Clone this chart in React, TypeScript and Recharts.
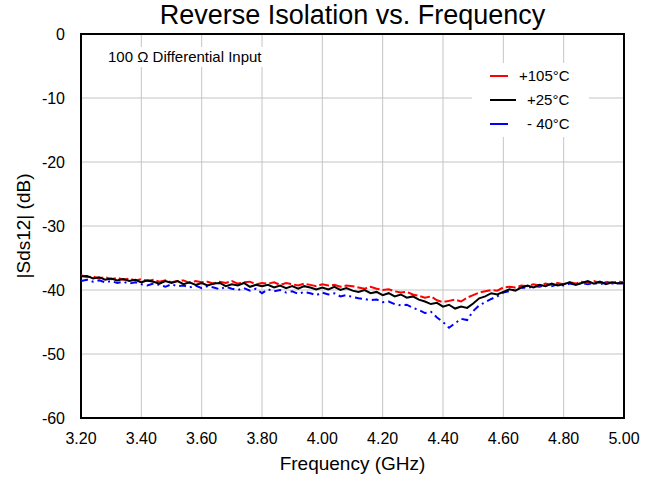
import React from "react";
import {
  CartesianGrid,
  Legend,
  Line,
  LineChart,
  ReferenceArea,
  XAxis,
  YAxis,
} from "recharts";

// Reverse isolation |Sds12| (dB) vs frequency (GHz), three temperatures.
const FONT = '"Liberation Sans", Arial, Helvetica, sans-serif';

const freqGHz = [
  3.2, 3.22, 3.24, 3.26, 3.28, 3.3, 3.32, 3.34, 3.36, 3.38,
  3.4, 3.42, 3.44, 3.46, 3.48, 3.5, 3.52, 3.54, 3.56, 3.58,
  3.6, 3.62, 3.64, 3.66, 3.68, 3.7, 3.72, 3.74, 3.76, 3.78,
  3.8, 3.82, 3.84, 3.86, 3.88, 3.9, 3.92, 3.94, 3.96, 3.98,
  4.0, 4.02, 4.04, 4.06, 4.08, 4.1, 4.12, 4.14, 4.16, 4.18,
  4.2, 4.22, 4.24, 4.26, 4.28, 4.3, 4.32, 4.34, 4.36, 4.38,
  4.4, 4.42, 4.44, 4.46, 4.48, 4.5, 4.52, 4.54, 4.56, 4.58,
  4.6, 4.62, 4.64, 4.66, 4.68, 4.7, 4.72, 4.74, 4.76, 4.78,
  4.8, 4.82, 4.84, 4.86, 4.88, 4.9, 4.92, 4.94, 4.96, 4.98,
  5.0,
];

const hot105 = [
  -37.7, -38.0, -37.9, -38.2, -38.0, -38.3, -38.1, -38.4, -38.2, -38.5,
  -38.3, -38.6, -38.4, -38.7, -38.5, -38.8, -38.6, -38.5, -38.9, -38.6,
  -38.8, -38.7, -39.0, -38.7, -38.9, -38.6, -39.0, -38.8, -38.7, -39.1,
  -38.9, -39.0, -38.8, -39.2, -38.9, -39.1, -39.3, -39.0, -39.2, -39.4,
  -39.1, -39.3, -39.2, -39.5, -39.3, -39.4, -39.6, -39.8, -39.5, -39.8,
  -40.0, -39.9, -40.2, -40.4, -40.3, -40.7, -40.9, -41.2, -41.0, -41.6,
  -41.9, -41.7, -41.5, -41.8, -41.2, -40.8, -40.4, -40.2, -40.0, -40.1,
  -39.6, -39.5, -39.6, -39.3, -39.4, -39.1, -39.3, -39.0, -39.2, -38.9,
  -39.1, -38.8, -39.0, -38.7, -38.9, -38.6, -38.9, -38.7, -38.9, -38.7,
  -38.8,
];

const room25 = [
  -37.9, -37.8, -38.2, -38.0, -38.4, -38.2, -38.5, -38.3, -38.6, -38.4,
  -38.8, -38.5, -38.7, -39.0, -38.6, -38.9, -38.6, -39.1, -38.8, -39.2,
  -38.9, -39.3, -39.0, -38.9, -39.4, -39.1, -39.3, -38.9, -39.5, -39.2,
  -39.4, -39.2, -39.6, -39.3, -39.7, -39.4, -39.8, -39.4, -39.6, -39.9,
  -39.6, -39.9, -39.5, -40.0, -39.7, -40.1, -40.3, -40.0, -40.5, -40.3,
  -40.8, -40.5, -41.0, -40.7, -41.2, -41.0, -41.5, -41.8, -42.2, -42.0,
  -42.6, -42.3, -42.9, -42.6, -42.8, -42.1, -41.3, -41.0, -40.5, -40.7,
  -40.3, -39.9, -40.1, -39.6, -39.3, -39.6, -39.2, -39.4, -39.0, -39.3,
  -39.1, -38.8, -39.2, -38.9, -38.6, -39.0, -38.7, -39.1, -38.8, -39.0,
  -38.9,
];

const cold40 = [
  -38.6, -38.4, -38.7, -38.5, -38.8, -38.6, -38.9, -38.7, -39.0, -38.8,
  -39.1, -39.3, -39.0, -39.2, -39.5, -39.1, -39.4, -39.3, -39.6, -39.3,
  -39.7, -39.4, -39.6, -39.9, -39.5, -39.8, -40.0, -39.7, -40.1, -39.8,
  -40.5, -39.9, -40.2, -40.0, -40.4, -40.2, -40.6, -40.3, -40.5, -40.8,
  -40.4, -40.7, -40.5, -41.0, -40.8, -41.1, -41.3, -41.4, -41.6, -41.5,
  -41.9, -41.8, -42.2, -42.4, -42.3, -42.8, -43.1, -43.6, -43.4, -44.3,
  -45.0, -45.9, -45.2, -44.5, -44.7, -43.3, -42.4, -41.9, -41.4, -41.0,
  -40.4, -40.2, -39.9, -39.6, -39.7, -39.4, -39.5, -39.2, -39.4, -39.1,
  -39.3, -39.0, -39.2, -38.9, -39.1, -38.9, -39.1, -38.8, -39.0, -38.9,
  -39.0,
];

const xTicks = [3.2, 3.4, 3.6, 3.8, 4.0, 4.2, 4.4, 4.6, 4.8, 5.0];
const yTicks = [-60, -50, -40, -30, -20, -10, 0];

const legendItems = [
  { label: "+105°C", color: "#ff0000", lineW: 18, textX: 47 },
  { label: "+25°C", color: "#000000", lineW: 26, textX: 55 },
  { label: "- 40°C", color: "#0000ff", lineW: 18, textX: 55 },
];

const chartData = freqGHz.map((f, i) => ({
  f,
  hot: hot105[i],
  room: room25[i],
  cold: cold40[i],
}));

function LegendBox() {
  return (
    <div style={{ position: "relative", width: 117, height: 74, background: "#fff" }}>
      {legendItems.map((it, i) => (
        <div key={it.label}>
          <div
            style={{
              position: "absolute",
              left: 18,
              top: 12 + i * 24,
              width: it.lineW,
              height: 2,
              background: it.color,
            }}
          />
          <div
            style={{
              position: "absolute",
              left: it.textX,
              top: 3 + i * 24,
              fontFamily: FONT,
              fontSize: 15,
              lineHeight: "20px",
              color: "#000",
              whiteSpace: "pre",
            }}
          >
            {it.label}
          </div>
        </div>
      ))}
    </div>
  );
}

export default function App() {
  return (
    <div style={{ position: "absolute", left: 0, top: 0, width: 655, height: 478, background: "#fff" }}>
      <LineChart
        width={655}
        height={478}
        data={chartData}
        margin={{ top: 34, right: 31, bottom: 30, left: 21 }}
      >
        <CartesianGrid stroke="#c4c4c4" strokeWidth={1} />
        <XAxis
          dataKey="f"
          type="number"
          domain={[3.2, 5.0]}
          ticks={xTicks}
          tickFormatter={(v: number) => v.toFixed(2)}
          axisLine={false}
          tickLine={false}
          tickMargin={9}
          height={30}
          tick={{ fontSize: 16, fill: "#000", fontFamily: FONT }}
          label={({ viewBox }: any) => (
            <text
              x={viewBox.x + viewBox.width / 2}
              y={470}
              textAnchor="middle"
              fontSize={19}
              fontFamily={FONT}
              fill="#000"
            >
              Frequency (GHz)
            </text>
          )}
        />
        <YAxis
          type="number"
          domain={[-60, 0]}
          ticks={yTicks}
          axisLine={false}
          tickLine={false}
          tickMargin={10}
          width={60}
          tick={{ fontSize: 16, fill: "#000", fontFamily: FONT }}
          label={({ viewBox }: any) => {
            const cy = viewBox.y + viewBox.height / 2;
            return (
              <text
                x={30}
                y={cy}
                transform={`rotate(-90, 30, ${cy})`}
                textAnchor="middle"
                fontSize={19}
                fontFamily={FONT}
                fill="#000"
              >
                |Sds12| (dB)
              </text>
            );
          }}
        />
        <Legend
          layout="vertical"
          align="center"
          verticalAlign="middle"
          wrapperStyle={{ left: 472, top: 63, width: 117, height: 74 }}
          content={() => <LegendBox />}
        />
        <Line
          dataKey="cold"
          name="- 40°C"
          stroke="#0000ff"
          strokeWidth={2}
          strokeDasharray="7 4 2 4"
          dot={false}
          isAnimationActive={false}
        />
        <Line
          dataKey="hot"
          name="+105°C"
          stroke="#ff0000"
          strokeWidth={2}
          strokeDasharray="10 3"
          dot={false}
          isAnimationActive={false}
        />
        <Line
          dataKey="room"
          name="+25°C"
          stroke="#000000"
          strokeWidth={2}
          dot={false}
          isAnimationActive={false}
        />
        <ReferenceArea
          x1={3.2}
          x2={5.0}
          y1={-60}
          y2={0}
          fill="none"
          stroke="#000"
          strokeWidth={2}
        />
      </LineChart>
      <div
        style={{
          position: "absolute",
          left: 0,
          top: 0,
          width: 705,
          textAlign: "center",
          fontFamily: FONT,
          fontSize: 27,
          lineHeight: "31px",
          color: "#000",
        }}
      >
        Reverse Isolation vs. Frequency
      </div>
      <div
        style={{
          position: "absolute",
          left: 102,
          top: 47,
          padding: "0 6px",
          background: "#fff",
          fontFamily: FONT,
          fontSize: 15,
          lineHeight: "20px",
          color: "#000",
          whiteSpace: "pre",
        }}
      >
        100 Ω Differential Input
      </div>
    </div>
  );
}
